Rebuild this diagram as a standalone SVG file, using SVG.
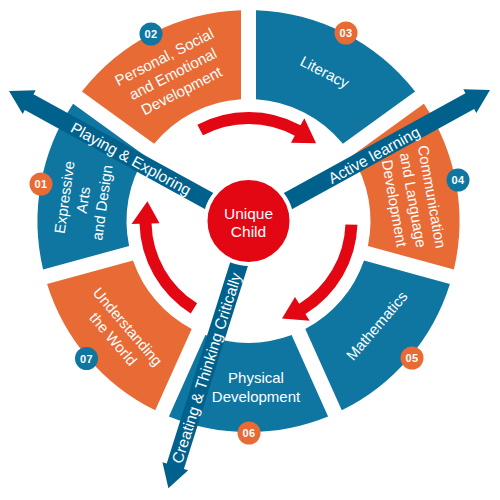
<svg xmlns="http://www.w3.org/2000/svg" width="500" height="500" viewBox="0 0 500 500">
<style>
.blue{fill:#0e76a0}
.orange{fill:#e86a35}
.lbl{font-family:"Liberation Sans",Arial,sans-serif;font-size:15px;fill:#fff;text-anchor:middle}
.flowlbl{font-family:"Liberation Sans",Arial,sans-serif;font-size:15.5px;fill:#fff;text-anchor:middle}
.num{font-family:"Liberation Sans",Arial,sans-serif;font-size:11px;font-weight:bold;fill:#fff;text-anchor:middle;letter-spacing:0.5px}
.flow{fill:#00628c}
.cycle{fill:#e30613}
</style>
<rect width="500" height="500" fill="#fff"/>
<g id="segments">
<g id="seg01-expressive-arts">
<path class="blue" d="M43.1 269.4 A211 211 0 0 1 73.1 103.7 L145.3 155.9 A122 122 0 0 0 129.1 245.9 Z"/>
<text class="lbl" transform="translate(83.5 200) rotate(-82)"><tspan x="0" y="-14">Expressive</tspan><tspan x="0" y="5">Arts</tspan><tspan x="0" y="24">and Design</tspan></text>
<circle class="orange" cx="41" cy="184" r="11.5"/>
<text class="num" x="41" y="188">01</text>
</g>
<g id="seg02-personal">
<path class="orange" d="M81.9 91.6 A211 211 0 0 1 241 10.13 L241 99.2 A122 122 0 0 0 154.1 143.7 Z"/>
<text class="lbl" transform="translate(173 74) rotate(-27.1)"><tspan x="0" y="-14">Personal, Social</tspan><tspan x="0" y="5">and Emotional</tspan><tspan x="0" y="24">Development</tspan></text>
<circle class="blue" cx="151" cy="34" r="11.5"/>
<text class="num" x="151" y="38">02</text>
</g>
<g id="seg03-literacy">
<path class="blue" d="M256 10.13 A211 211 0 0 1 415.1 91.6 L342.9 143.7 A122 122 0 0 0 256 99.2 Z"/>
<text class="lbl" transform="translate(324.6 72.3) rotate(27.1)" y="5">Literacy</text>
<circle class="orange" cx="346" cy="33" r="11.5"/>
<text class="num" x="346" y="37">03</text>
</g>
<g id="seg04-communication">
<path class="orange" d="M423.9 103.7 A211 211 0 0 1 453.9 269.4 L367.9 245.9 A122 122 0 0 0 351.7 155.9 Z"/>
<text class="lbl" transform="translate(413 200) rotate(80)"><tspan x="0" y="-14">Communication</tspan><tspan x="0" y="5">and Language</tspan><tspan x="0" y="24">Development</tspan></text>
<circle class="blue" cx="458" cy="180" r="11.5"/>
<text class="num" x="458" y="184">04</text>
</g>
<g id="seg05-mathematics">
<path class="blue" d="M449.9 283.9 A211 211 0 0 1 341.8 410.3 L305.3 329 A122 122 0 0 0 364 260.4 Z"/>
<text class="lbl" transform="translate(377 326) rotate(-49.5)" y="5">Mathematics</text>
<circle class="orange" cx="412" cy="358" r="11.5"/>
<text class="num" x="412" y="362">05</text>
</g>
<g id="seg06-physical">
<path class="blue" d="M328.1 416.4 A211 211 0 0 1 168.9 416.4 L205.4 335.1 A122 122 0 0 0 291.6 335.1 Z"/>
<text class="lbl"><tspan x="256" y="383">Physical</tspan><tspan x="256" y="401.5">Development</tspan></text>
<circle class="orange" cx="249" cy="433" r="11.5"/>
<text class="num" x="249" y="437">06</text>
</g>
<g id="seg07-understanding">
<path class="orange" d="M155.2 410.3 A211 211 0 0 1 47.1 283.9 L133 260.4 A122 122 0 0 0 191.7 329 Z"/>
<text class="lbl" transform="translate(120.3 333) rotate(49.5)"><tspan x="0" y="-4.5">Understanding</tspan><tspan x="0" y="14.5">the World</tspan></text>
<circle class="blue" cx="86.5" cy="358.5" r="11.5"/>
<text class="num" x="86.5" y="362.5">07</text>
</g>
</g>
<g id="connectors">
<path class="cycle" d="M197.33 124.76 A109 109 0 0 1 300.51 125.21 L304.33 118.18 L316.07 143.26 L290.97 142.79 L294.78 135.75 A97 97 0 0 0 202.96 135.35 Z"/>
<path class="cycle" transform="rotate(120 248.5 221)" d="M197.33 124.76 A109 109 0 0 1 300.51 125.21 L304.33 118.18 L316.07 143.26 L290.97 142.79 L294.78 135.75 A97 97 0 0 0 202.96 135.35 Z"/>
<path class="cycle" transform="rotate(240 248.5 221)" d="M197.33 124.76 A109 109 0 0 1 300.51 125.21 L304.33 118.18 L316.07 143.26 L290.97 142.79 L294.78 135.75 A97 97 0 0 0 202.96 135.35 Z"/>
<g id="arrow-playing">
<path class="flow" transform="translate(250 223.5) rotate(-151.2)" d="M0 -9 H252 V-13.5 L275 0 L252 13.5 V9 H0 Z"/>
<text class="flowlbl" transform="translate(131 158.7) rotate(28.8)" y="5.5">Playing &amp; Exploring</text>
</g>
<g id="arrow-active">
<path class="flow" transform="translate(249 222.5) rotate(-28.8)" d="M0 -9 H252 V-13.5 L275 0 L252 13.5 V9 H0 Z"/>
<text class="flowlbl" transform="translate(374 155) rotate(-28.8)" y="5.5">Active learning</text>
</g>
<g id="arrow-creating">
<path class="flow" transform="translate(252 223) rotate(107.5)" d="M0 -9 H255 V-13.5 L278 0 L255 13.5 V9 H0 Z"/>
<text class="flowlbl" transform="translate(206.5 368) rotate(-72.5)" y="5.5">Creating &amp; Thinking Critically</text>
</g>
</g>
<g id="unique-child">
<circle cx="248.5" cy="221" r="43" fill="#e30613" stroke="#fff" stroke-width="4"/>
<text class="lbl" style="font-size:15.5px"><tspan x="248.5" y="218.5">Unique</tspan><tspan x="248.5" y="237">Child</tspan></text>
</g>
</svg>
